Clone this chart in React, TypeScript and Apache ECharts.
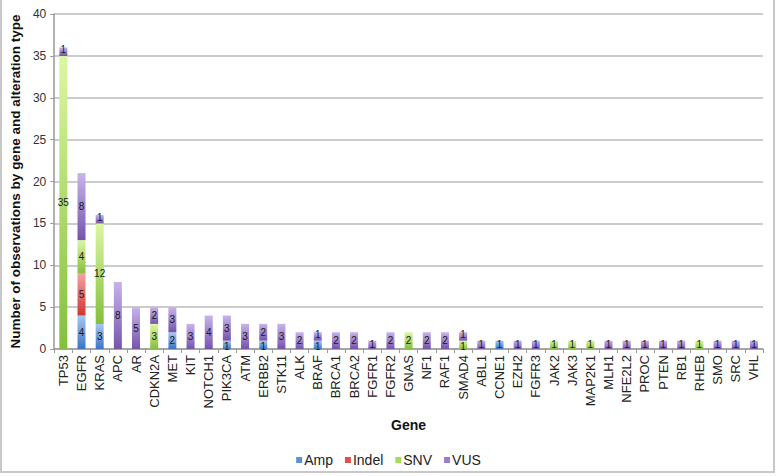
import React, { useEffect, useRef } from "react";
import * as echarts from "echarts";

const genes = ["TP53","EGFR","KRAS","APC","AR","CDKN2A","MET","KIT","NOTCH1","PIK3CA","ATM","ERBB2","STK11","ALK","BRAF","BRCA1","BRCA2","FGFR1","FGFR2","GNAS","NF1","RAF1","SMAD4","ABL1","CCNE1","EZH2","FGFR3","JAK2","JAK3","MAP2K1","MLH1","NFE2L2","PROC","PTEN","RB1","RHEB","SMO","SRC","VHL"];
const amp   = [0,4,3,0,0,0,2,0,0,1,0,1,0,0,1,0,0,0,0,0,0,0,0,0,1,0,0,0,0,0,0,0,0,0,0,0,0,0,0];
const indel = [0,5,0,0,0,0,0,0,0,0,0,0,0,0,0,0,0,0,0,0,0,0,0,0,0,0,0,0,0,0,0,0,0,0,0,0,0,0,0];
const snv   = [35,4,12,0,0,3,0,0,0,0,0,0,0,0,0,0,0,0,0,2,0,0,1,0,0,0,0,1,1,1,0,0,0,0,0,1,0,0,0];
const vus   = [1,8,1,8,5,2,3,3,4,3,3,2,3,2,1,2,2,1,2,0,2,2,1,1,0,1,1,0,0,0,1,1,1,1,1,0,1,1,1];
const yTicks = { min: 0, max: 40, interval: 5 };

const FONT = "'Liberation Sans', Arial, sans-serif";
const all = [amp, indel, snv, vus];

const grad = (top: string, bottom: string) =>
  new echarts.graphic.LinearGradient(0, 0, 0, 1, [
    { offset: 0, color: top },
    { offset: 1, color: bottom },
  ]);

export default function App() {
  const ref = useRef<HTMLDivElement>(null);
  useEffect(() => {
    if (!ref.current) return;
    const chart = echarts.init(ref.current, undefined, { renderer: "svg" });
    const mk = (si: number, name: string, top: string, bottom: string, legendColor: string) => ({
      name,
      type: "bar",
      stack: "total",
      barWidth: 8,
      data: all[si].map((v, i) => {
        if (v === 0) return null;
        if (v !== 1) return v;
        const below = all.slice(0, si).some((a) => a[i] > 0);
        const above = all.slice(si + 1).some((a) => a[i] > 0);
        const dy = (below ? -2 : 0) + (above ? 2 : 0);
        return dy ? { value: v, label: { offset: [0, dy] } } : v;
      }),
      itemStyle: { color: grad(top, bottom) },
      label: {
        show: true,
        position: "inside",
        color: "#1a1a1a",
        fontSize: 10,
        fontFamily: FONT,
      },
      emphasis: { disabled: true },
      legendColor,
    });
    const series = [
      mk(0, "Amp", "#a6c8f2", "#3b73c6", "#5b8fd9"),
      mk(1, "Indel", "#f4a4a2", "#cf3532", "#e0504c"),
      mk(2, "SNV", "#dcf7a2", "#84bf3c", "#a6dc5a"),
      mk(3, "VUS", "#c8b4ea", "#7553ad", "#9a7bcc"),
    ];
    chart.setOption({
      animation: false,
      backgroundColor: "#ffffff",
      textStyle: { fontFamily: FONT },
      grid: { left: 53, right: 14, top: 14, bottom: 127, containLabel: false },
      legend: {
        bottom: 4,
        left: "center",
        icon: "rect",
        itemWidth: 6,
        itemHeight: 6,
        itemGap: 12,
        textStyle: { fontSize: 14, color: "#222", padding: [0, 0, 0, -3] },
        data: series.map((s) => ({ name: s.name, itemStyle: { color: s.legendColor } })),
      },
      xAxis: {
        type: "category",
        data: genes,
        name: "Gene",
        nameLocation: "middle",
        nameGap: 69,
        nameTextStyle: { fontWeight: "bold", fontSize: 14, color: "#111" },
        axisLine: { lineStyle: { color: "#999", width: 1.5 } },
        axisTick: { show: true, alignWithLabel: false, length: 4, lineStyle: { color: "#999" } },
        axisLabel: { rotate: 90, fontSize: 13, color: "#222", interval: 0, margin: 6 },
      },
      yAxis: {
        type: "value",
        min: yTicks.min,
        max: yTicks.max,
        interval: yTicks.interval,
        name: "Number of observations by gene and alteration type",
        nameLocation: "middle",
        nameGap: 28,
        nameTextStyle: { fontWeight: "bold", fontSize: 13.5, color: "#111" },
        axisLine: { show: true, lineStyle: { color: "#999", width: 1.5 } },
        axisTick: { show: true, length: 4, lineStyle: { color: "#999" } },
        axisLabel: { fontSize: 12, color: "#333", margin: 8 },
        splitLine: { lineStyle: { color: "#bbb", width: 1.5 } },
      },
      series: series.map(({ legendColor, ...s }) => s),
      graphic: [
        {
          type: "rect",
          shape: { x: 1, y: -2, width: 773, height: 474 },
          style: { fill: "none", stroke: "#c8c8c8", lineWidth: 2 },
          silent: true,
        },
      ],
    });
    return () => chart.dispose();
  }, []);
  return <div ref={ref} style={{ width: 777, height: 476, position: "absolute", left: 0, top: 0 }} />;
}
